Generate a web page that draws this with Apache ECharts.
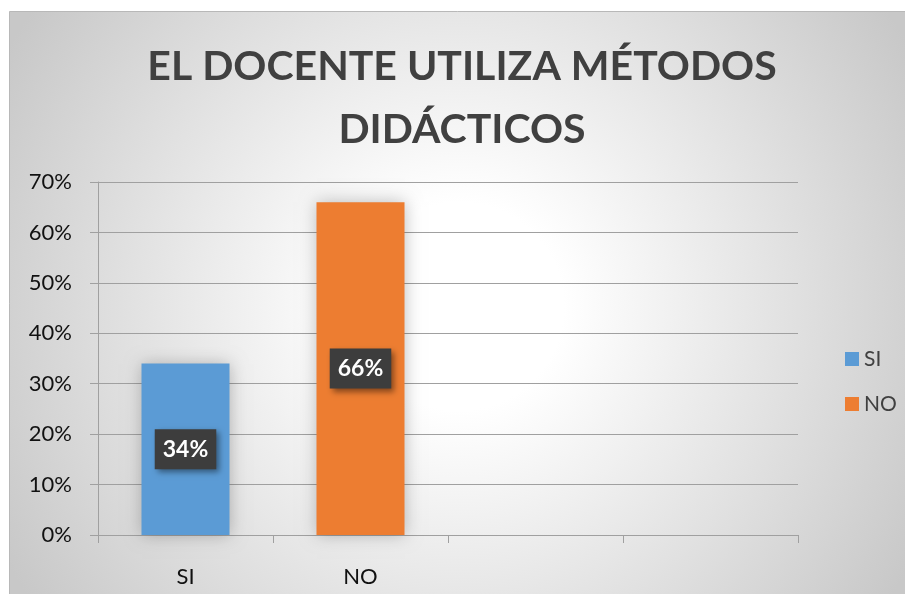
<!DOCTYPE html>
<html>
<head>
<meta charset="utf-8">
<script src="https://cdn.jsdelivr.net/npm/echarts@6/dist/echarts.min.js"></script>
<style>
  html, body { margin: 0; padding: 0; background: #fff; }
  #chart { width: 905px; height: 594px; }
</style>
</head>
<body>
<div id="chart"></div>
<script>
// datos
const categories = ['SI', 'NO', '', '']
const seriesNames = ['SI', 'NO']
const seriesValues = [34, 66]
const seriesColors = ['#5B9BD5', '#ED7D31']
const yTicks = [0, 10, 20, 30, 40, 50, 60, 70]

const chart = echarts.init(document.getElementById('chart'))

// cada serie ocupa solo su propia categoría
const seriesArr = seriesNames.map((name, index) => {
  return {
    name: name,
    type: 'bar',
    stack: 'total',
    barWidth: 88,
    data: categories.map((c, i) => (i === index ? seriesValues[index] : '-')),
    itemStyle: {
      color: seriesColors[index],
      shadowBlur: 16,
      shadowColor: 'rgba(0,0,0,0.25)'
    },
    label: {
      show: true,
      position: 'inside',
      formatter: '{c}%',
      color: '#fff',
      fontFamily: 'Lato',
      fontWeight: 'bold',
      fontSize: 23,
      backgroundColor: '#3d3d3d',
      padding: [9, 8, 8, 8],
      shadowBlur: 6,
      shadowOffsetX: 3,
      shadowOffsetY: 3,
      shadowColor: 'rgba(0,0,0,0.45)'
    }
  }
})

const option = {
  animation: false,
  graphic: [
    {
      type: 'rect',
      z: -10,
      shape: { x: 9.5, y: 11.5, width: 900, height: 590 },
      style: {
        fill: new echarts.graphic.RadialGradient(0.5, 0.5, 0.88, [
          { offset: 0, color: '#ffffff' },
          { offset: 0.2, color: '#ffffff' },
          { offset: 1, color: '#c8c8c8' }
        ]),
        stroke: '#b8b8b8',
        lineWidth: 1
      }
    }
  ],
  title: {
    text: 'EL DOCENTE UTILIZA MÉTODOS\nDIDÁCTICOS',
    left: 462,
    top: 35,
    padding: 0,
    textAlign: 'center',
    textStyle: {
      fontFamily: 'Lato',
      fontWeight: 'bold',
      fontSize: 41,
      lineHeight: 63,
      color: '#404040'
    }
  },
  legend: {
    orient: 'vertical',
    left: 840,
    top: 343,
    itemWidth: 14,
    itemHeight: 14,
    itemGap: 23,
    icon: 'rect',
    data: seriesNames,
    textStyle: {
      fontFamily: 'Lato',
      fontSize: 21,
      lineHeight: 22,
      color: '#404040'
    }
  },
  grid: {
    left: 98,
    right: 107,
    top: 182,
    bottom: 59
  },
  xAxis: {
    type: 'category',
    data: categories,
    axisLine: { lineStyle: { color: '#a0a0a0', width: 1 } },
    axisTick: { show: true, interval: 0, length: 8, lineStyle: { color: '#a0a0a0' } },
    axisLabel: {
      interval: 0,
      margin: 31,
      fontFamily: 'Lato',
      fontSize: 22,
      color: '#111'
    }
  },
  yAxis: {
    type: 'value',
    min: yTicks[0],
    max: yTicks[yTicks.length - 1],
    interval: 10,
    axisLine: { show: true, lineStyle: { color: '#a0a0a0' } },
    axisTick: { show: true, length: 8, lineStyle: { color: '#a0a0a0' } },
    splitLine: { lineStyle: { color: '#a0a0a0', width: 1 } },
    axisLabel: {
      margin: 26,
      formatter: '{value}%',
      fontFamily: 'Lato',
      fontSize: 22,
      color: '#111'
    }
  },
  series: seriesArr
}

chart.setOption(option)
</script>
</body>
</html>
